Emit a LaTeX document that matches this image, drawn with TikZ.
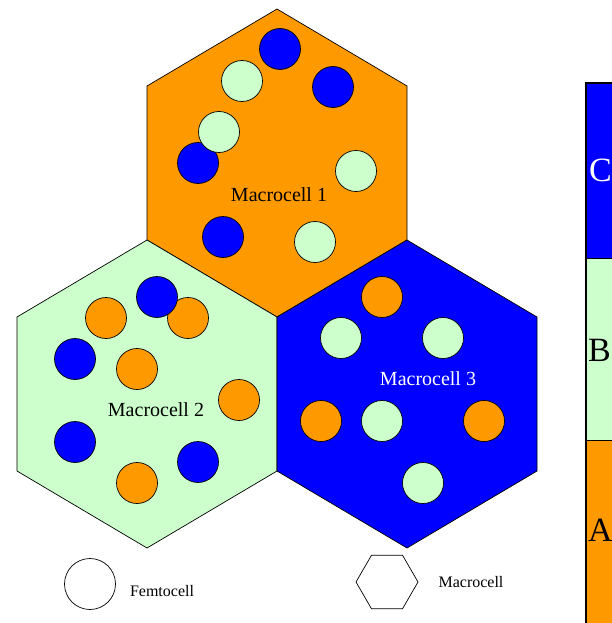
\documentclass[tikz,border=0pt]{standalone}
\usepackage{fontspec}
\setmainfont{Liberation Serif}
\usepackage{xcolor}
\usetikzlibrary{shapes,positioning}

\definecolor{cellorange}{RGB}{255,153,0}
\definecolor{cellgreen}{RGB}{204,255,204}
\definecolor{cellblue}{RGB}{0,0,255}

\tikzset{
    macro/.style={draw=black,line width=0.7pt},
    femto/.style={draw=black,line width=0.7pt},
    celllabel/.style={font=\fontsize{20}{24}\selectfont,inner sep=0pt},
    legendlabel/.style={font=\fontsize{16}{19}\selectfont,inner sep=0pt},
    bandlabel/.style={font=\fontsize{34}{40}\selectfont,inner sep=0pt,anchor=west}
}

\begin{document}
\begin{tikzpicture}[x=1pt,y=-1pt]
    \useasboundingbox (0,0) rectangle (612,623);
    \clip (0,0) rectangle (612,623);

    % Macrocells (pointy-top hexagons)
    \foreach \cx/\cy/\col in {277/163/cellorange,147/394/cellgreen,407/394/cellblue} {
        \draw[macro,fill=\col] (\cx,\cy-154) -- (\cx+130,\cy-77) -- (\cx+130,\cy+77)
            -- (\cx,\cy+154) -- (\cx-130,\cy+77) -- (\cx-130,\cy-77) -- cycle;
    }

    % Femtocells of macrocell 1
    \foreach \x/\y/\col in {280/49/cellblue,242/81/cellgreen,333/87/cellblue,
        198/163/cellblue,219/132/cellgreen,356/171/cellgreen,223/237/cellblue,315/242/cellgreen} {
        \draw[femto,fill=\col] (\x,\y) circle (20.5pt);
    }
    % Femtocells of macrocell 2
    \foreach \x/\y/\col in {106/318/cellorange,188/318/cellorange,157/297/cellblue,
        75/359/cellblue,137/369/cellorange,239/400/cellorange,75/442/cellblue,
        137/483/cellorange,198/462/cellblue} {
        \draw[femto,fill=\col] (\x,\y) circle (20.5pt);
    }
    % Femtocells of macrocell 3
    \foreach \x/\y/\col in {382/297/cellorange,341/338/cellgreen,443/338/cellgreen,
        321/421/cellorange,382/421/cellgreen,484/421/cellorange,423/483/cellgreen} {
        \draw[femto,fill=\col] (\x,\y) circle (20.5pt);
    }

    \node[celllabel] (mc1) at (279,195) {Macrocell 1};
    \node[celllabel] (mc2) at (156,410) {Macrocell 2};
    \node[celllabel,text=white] (mc3) at (428,379) {Macrocell 3};

    % Band bar (right, cut off by the page)
    \fill[cellblue] (586,83) rectangle (640,258);
    \fill[cellgreen] (586,258) rectangle (640,440);
    \fill[cellorange] (586,440) rectangle (640,640);
    \draw[line width=0.6pt] (586,258) -- (640,258);
    \draw[line width=0.6pt] (586,440) -- (640,440);
    \draw[line width=1.6pt] (586,640) -- (586,83) -- (640,83);
    \node[bandlabel,text=white] (bandC) at (589,170) {C};
    \node[bandlabel] (bandB) at (588,350) {B};
    \node[bandlabel] (bandA) at (588,530) {A};

    % Legend
    \draw[femto] (90,584) circle (25.5pt);
    \node[legendlabel] (femtolabel) at (162,591) {Femtocell};
    \draw[macro] (418,582) -- (402.5,555.2) -- (371.5,555.2) -- (356,582)
        -- (371.5,608.8) -- (402.5,608.8) -- cycle;
    \node[legendlabel] (macrolabel) at (471,582) {Macrocell};
\end{tikzpicture}
\end{document}
